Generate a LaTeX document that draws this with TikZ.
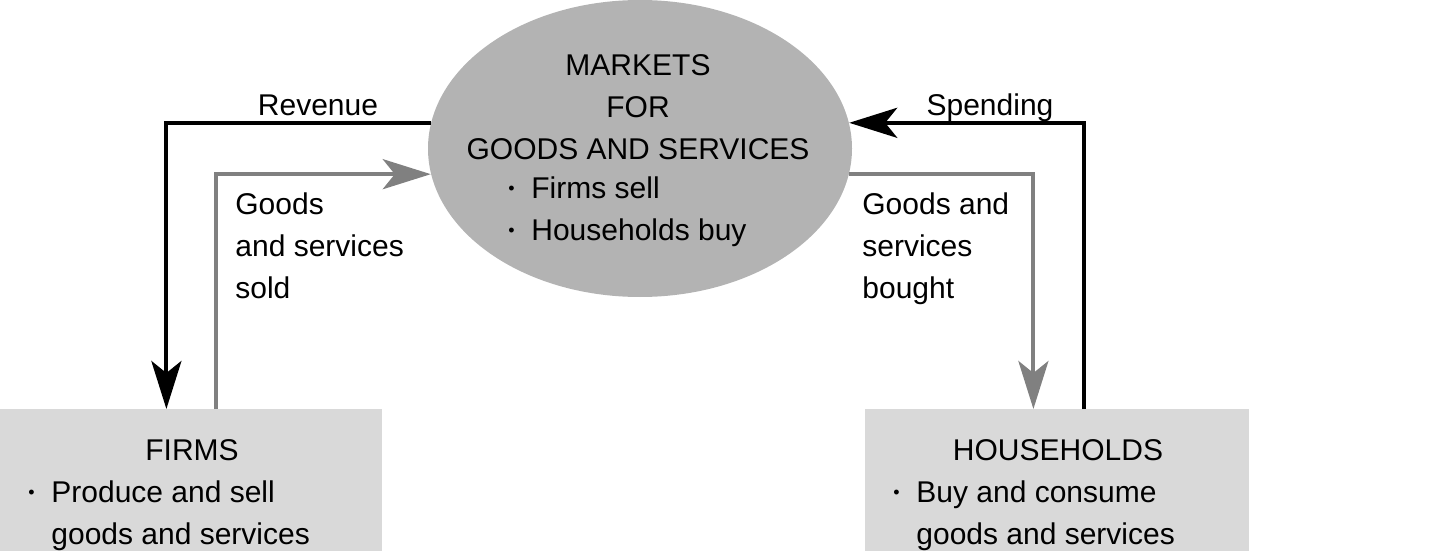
\documentclass[tikz,border=0pt]{standalone}
\usepackage{fontspec}
\setmainfont{Liberation Sans}
\usepackage{xcolor}
\usepackage{tikz}
\usetikzlibrary{calc}
\usetikzlibrary{arrows.meta}
\usetikzlibrary{shapes.geometric}
\usetikzlibrary{positioning}
\definecolor{mktgray}{RGB}{179,179,179}
\definecolor{boxgray}{RGB}{217,217,217}
\definecolor{flowgray}{RGB}{128,128,128}
\tikzset{>={Stealth[length=24pt,width=15pt,inset=6pt]}}
\tikzstyle{txt} = [draw=none, inner sep=0, font=\fontsize{15pt}{21pt}\selectfont]
\tikzstyle{mkt} = [ellipse, draw=none, fill=mktgray, inner sep=0, minimum width=212pt, minimum height=148.5pt]
\tikzstyle{sector} = [rectangle, draw=none, fill=boxgray, inner sep=0, anchor=north west, minimum height=80pt]
\tikzstyle{money} = [->, line width=2pt, draw=black]
\tikzstyle{goods} = [->, line width=2pt, draw=flowgray]
\newcommand{\itm}{\makebox[12.5pt][l]{\hspace*{1pt}\raisebox{1.6pt}{\fontsize{9pt}{9pt}\selectfont •}}}
\newcommand{\ind}{\hspace*{12.5pt}}

\begin{document}
\begin{tikzpicture}[x=0.5pt, y=-0.5pt]
\useasboundingbox (0,0) rectangle (1436,551);
\node [mkt] (M) at (640, 148.5) {};
\node [sector, minimum width=191pt] (F) at (0, 409) {};
\node [sector, minimum width=192pt] (H) at (865, 409) {};
% texts
\node [txt, align=center] (Mhead) at (638, 107) {MARKETS\\FOR\\GOODS AND SERVICES};
\node [txt, align=left, anchor=north west] (Mlist) at (506, 176) {\itm Firms sell\\\itm Households buy};
\node [txt, anchor=base] (Fhead) at (192, 460) {FIRMS};
\node [txt, align=left, anchor=north west] (Flist) at (26, 480) {\itm Produce and sell\\\ind goods and services};
\node [txt, anchor=base] (Hhead) at (1058, 460) {HOUSEHOLDS};
\node [txt, align=left, anchor=north west] (Hlist) at (891, 480) {\itm Buy and consume\\\ind goods and services};
\node [txt, anchor=base] (rev) at (318, 116) {Revenue};
\node [txt, anchor=base] (spend) at (990, 116) {Spending};
\node [txt, align=left, anchor=north west] (sold) at (235, 192) {Goods\\and services\\sold};
\node [txt, align=left, anchor=north west] (bought) at (862, 192) {Goods and\\services\\bought};
% flows
\draw [money] (M.173) -| ([xshift=-12.5pt]F.north);
\draw [goods] ([xshift=12.5pt]F.north) |- (M.187);
\draw [goods] (M.353) -| ([xshift=-12pt]H.north);
\draw [money] ([xshift=13.5pt]H.north) |- (M.7);
\end{tikzpicture}
\end{document}
